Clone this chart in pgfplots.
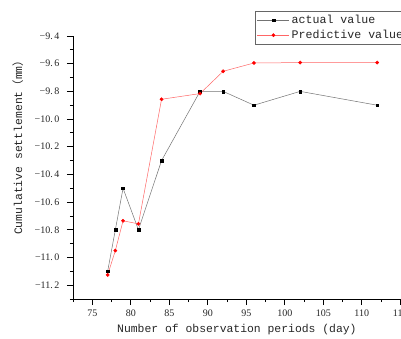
\documentclass[border=0pt]{standalone}
\usepackage{fontspec}
\setmainfont{Liberation Mono}
\newfontfamily\tickfont{Liberation Serif}
\newfontfamily\cjk{Noto Sans CJK SC}
\usepackage{pgfplots}
\pgfplotsset{compat=1.18}
\begin{document}
\begin{tikzpicture}
\useasboundingbox (0,0) rectangle (401pt,338pt);
\clip (0,0) rectangle (401pt,338pt);
\begin{axis}[
  at={(73pt,39pt)}, anchor=south west,
  scale only axis, width=346.5pt, height=263pt,
  xmin=72.5, xmax=117.5, ymin=-11.3, ymax=-9.4,
  axis x line*=bottom, axis y line*=left,
  axis line style={-, line width=0.8pt},
  tick align=outside,
  major tick length=6pt, minor tick length=3pt,
  tick style={line width=0.8pt, black},
  xtick={75,80,85,90,95,100,105,110,115},
  xticklabels={75,80,85,90,95,100,105,110,115},
  minor xtick={72.5,77.5,82.5,87.5,92.5,97.5,102.5,107.5,112.5,117.5},
  ytick={-11.2,-11.0,-10.8,-10.6,-10.4,-10.2,-10.0,-9.8,-9.6,-9.4},
  yticklabels={−11.\,2,−11.\,0,−10.\,8,−10.\,6,−10.\,4,−10.\,2,−10.\,0,−9.\,8,−9.\,6,−9.\,4},
  minor ytick={-11.3,-11.1,-10.9,-10.7,-10.5,-10.3,-10.1,-9.9,-9.7,-9.5},
  tick label style={font=\tickfont\fontsize{10}{12}\selectfont, text=black!85},
  yticklabel style={xshift=-4pt},
  xticklabel style={yshift=-1pt},
  label style={font=\fontsize{11.4}{13}\selectfont, text=black!85},
  xlabel={Number of observation periods (day)},
  xlabel style={at={(axis description cs:0.473,-0.118)}, anchor=center},
  ylabel={Cumulative settlement{\cjk （}mm{\cjk ）}},
  ylabel style={at={(axis description cs:-0.159,0.586)}, anchor=center},
  legend cell align=left,
  legend style={at={(axis description cs:0.525,1.095)}, anchor=north west,
    font=\fontsize{11.6}{13}\selectfont, draw=black!60, line width=0.6pt,
    inner sep=2pt, row sep=1pt, text=black!85,
    nodes={inner sep=2pt}},
  legend image code/.code={\draw[mark repeat=2,mark phase=2,#1] plot coordinates {(0pt,0pt)(16pt,0pt)(32pt,0pt)};},
]
\addplot[color=black!55, line width=0.5pt, mark=square*, mark size=1.4pt,
  mark options={fill=black, draw=black}] coordinates {
  (77,-11.1) (78,-10.8) (79,-10.5) (81,-10.8) (84,-10.3) (89,-9.8)
  (92,-9.8) (96,-9.9) (102,-9.8) (112,-9.9)};
\addlegendentry{actual value}
\addplot[color=red!60, line width=0.5pt, mark=*, mark size=1.6pt,
  mark options={fill=red, draw=red}] coordinates {
  (77,-11.126) (78,-10.95) (79,-10.735) (81,-10.757) (84,-9.857) (89,-9.816)
  (92,-9.655) (96,-9.595) (102,-9.592) (112,-9.592)};
\addlegendentry{Predictive value}
\end{axis}
\end{tikzpicture}
\end{document}
